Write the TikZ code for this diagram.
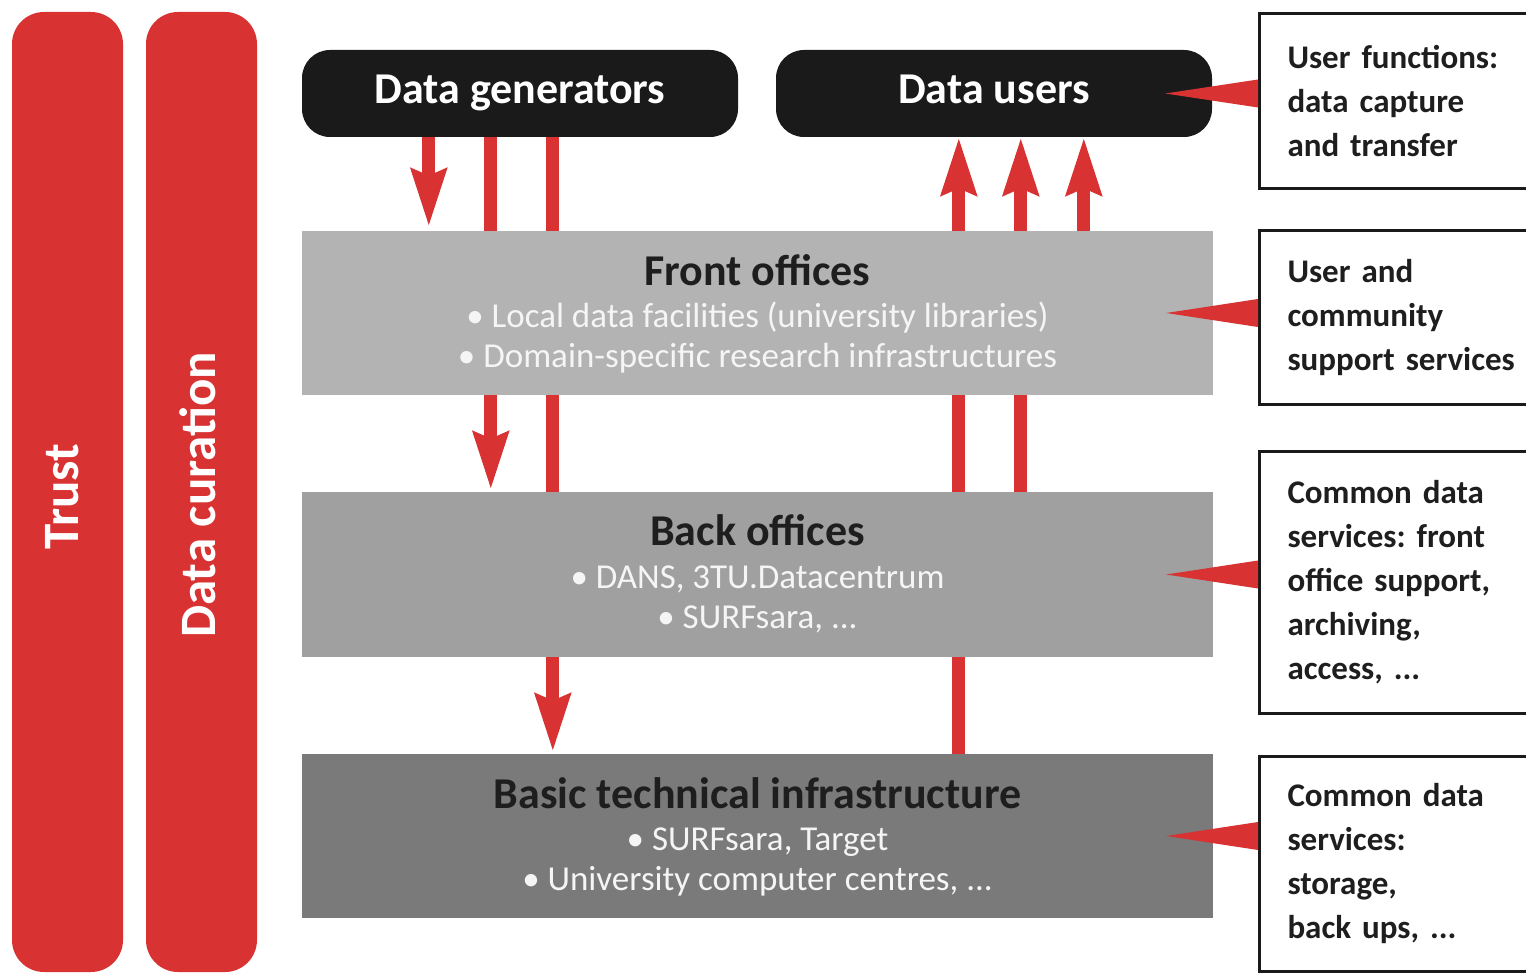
\documentclass[tikz,border=0pt]{standalone}
\usepackage{fontspec}
\setmainfont{Carlito}
\usetikzlibrary{arrows.meta,calc}
\frenchspacing
\definecolor{cred}{RGB}{216,50,50}
\definecolor{cblack}{RGB}{26,26,26}
\definecolor{gfront}{RGB}{179,179,179}
\definecolor{gback}{RGB}{160,160,160}
\definecolor{gbasic}{RGB}{122,122,122}
\definecolor{ctitle}{RGB}{30,30,30}
\definecolor{cbullet}{RGB}{245,245,245}
\tikzset{
  pillar/.style={fill=cred, rounded corners=32pt, minimum width=111pt, minimum height=960pt, inner sep=0pt},
  pillartext/.style={rotate=90, text=white, font=\fontsize{51}{60}\selectfont\bfseries, inner sep=0pt},
  actor/.style={fill=cblack, rounded corners=28pt, minimum width=436pt, minimum height=87pt, inner sep=0pt, text height=30pt, text depth=9pt, text=white, font=\fontsize{44}{50}\selectfont\bfseries},
  layer/.style={minimum width=911pt, minimum height=164pt, inner sep=0pt},
  ltitle/.style={anchor=base, inner sep=0pt, text=ctitle, font=\fontsize{44}{50}\selectfont\bfseries},
  lbullet/.style={anchor=base, inner sep=0pt, text=cbullet, font=\fontsize{35}{40}\selectfont},
  flow/.style={draw=cred, line width=13pt, -{Stealth[length=57pt,width=34pt,inset=6pt]}},
  sidebox/.style={draw=cblack, line width=3pt, anchor=west, align=left, text width=262pt, inner xsep=28pt, inner ysep=0pt, text=ctitle, font=\fontsize{33}{44}\selectfont\bfseries},
  wedge/.style={fill=cred}
}
\begin{document}
\begin{tikzpicture}[x=1pt,y=-1pt]
\clip (0,0) rectangle (1526,973);
\fill[white] (0,0) rectangle (1526,973);
% pillars
\node[pillar] (trust) at (67.5,492) {};
\node[pillar] (cur) at (201.5,492) {};
\node[pillartext] (trustt) at (62.5,496.5) {Trust};
\node[pillartext] (curt) at (197.5,495) {Data curation};
% actors
\node[actor] (gen) at (520,93.5) {Data generators};
\node[actor] (users) at (994,93.5) {Data users};
% layer coordinates (for connectors)
\node[layer] (front) at (757.5,313) {};
\node[layer, minimum height=165pt] (back) at (757.5,574.5) {};
\node[layer] (basic) at (757.5,836) {};
% flows (behind layers)
\draw[flow] ($(gen.south west)+(127,0)$) -- ($(front.north west)+(127,-4)$);
\draw[flow] ($(gen.south west)+(189,0)$) -- ($(back.north west)+(189,-2)$);
\draw[flow] ($(gen.south west)+(251,0)$) -- ($(basic.north west)+(251,-2)$);
\draw[flow] ($(basic.north west)+(657,0)$) -- ($(users.south west)+(183,0)$);
\draw[flow] ($(back.north west)+(719,0)$) -- ($(users.south west)+(245,0)$);
\draw[flow] ($(front.north west)+(782,0)$) -- ($(users.south west)+(308,0)$);
% layers drawn on top
\fill[gfront] (front.south west) rectangle (front.north east);
\fill[gback] (back.south west) rectangle (back.north east);
\fill[gbasic] (basic.south west) rectangle (basic.north east);
\node[ltitle] (ft) at ($(front.north)+(0,55)$) {Front offices};
\node[lbullet] (fb1) at ($(front.north)+(0,97)$) {• Local data facilities (university libraries)};
\node[lbullet] (fb2) at ($(front.north)+(0,137)$) {• Domain-specific research infrastructures};
\node[ltitle] (bt) at ($(back.north)+(0,54)$) {Back offices};
\node[lbullet] (bb1) at ($(back.north)+(0,97)$) {• DANS, 3TU.Datacentrum};
\node[lbullet] (bb2) at ($(back.north)+(0,137)$) {• SURFsara, ...};
\node[ltitle] (st) at ($(basic.north)+(0,55)$) {Basic technical infrastructure};
\node[lbullet] (sb1) at ($(basic.north)+(0,97)$) {• SURFsara, Target};
\node[lbullet] (sb2) at ($(basic.north)+(0,137)$) {• University computer centres, ...};
% side boxes
\node[sidebox, minimum height=175pt] (r1) at (1258,101.5) {User functions:\\data capture\\and transfer};
\node[sidebox, minimum height=174pt] (r2) at (1258,318) {User and\\community\\support services};
\node[sidebox, minimum height=262pt] (r3) at (1258,582) {Common data\\services: front\\office support,\\archiving,\\access, ...};
\node[sidebox, minimum height=215pt] (r4) at (1258,863.5) {Common data\\services:\\storage,\\back ups, ...};
% wedges
\fill[wedge] ($(users.east)+(-47,0)$) -- ($(r1.west |- users.east)+(0,-14)$) -- ($(r1.west |- users.east)+(0,14)$) -- cycle;
\fill[wedge] ($(front.east)+(-47,0)$) -- ($(r2.west |- front.east)+(0,-14)$) -- ($(r2.west |- front.east)+(0,14)$) -- cycle;
\fill[wedge] ($(back.east)+(-47,0)$) -- ($(r3.west |- back.east)+(0,-14)$) -- ($(r3.west |- back.east)+(0,14)$) -- cycle;
\fill[wedge] ($(basic.east)+(-47,0)$) -- ($(r4.west |- basic.east)+(0,-14)$) -- ($(r4.west |- basic.east)+(0,14)$) -- cycle;
\end{tikzpicture}
\end{document}
